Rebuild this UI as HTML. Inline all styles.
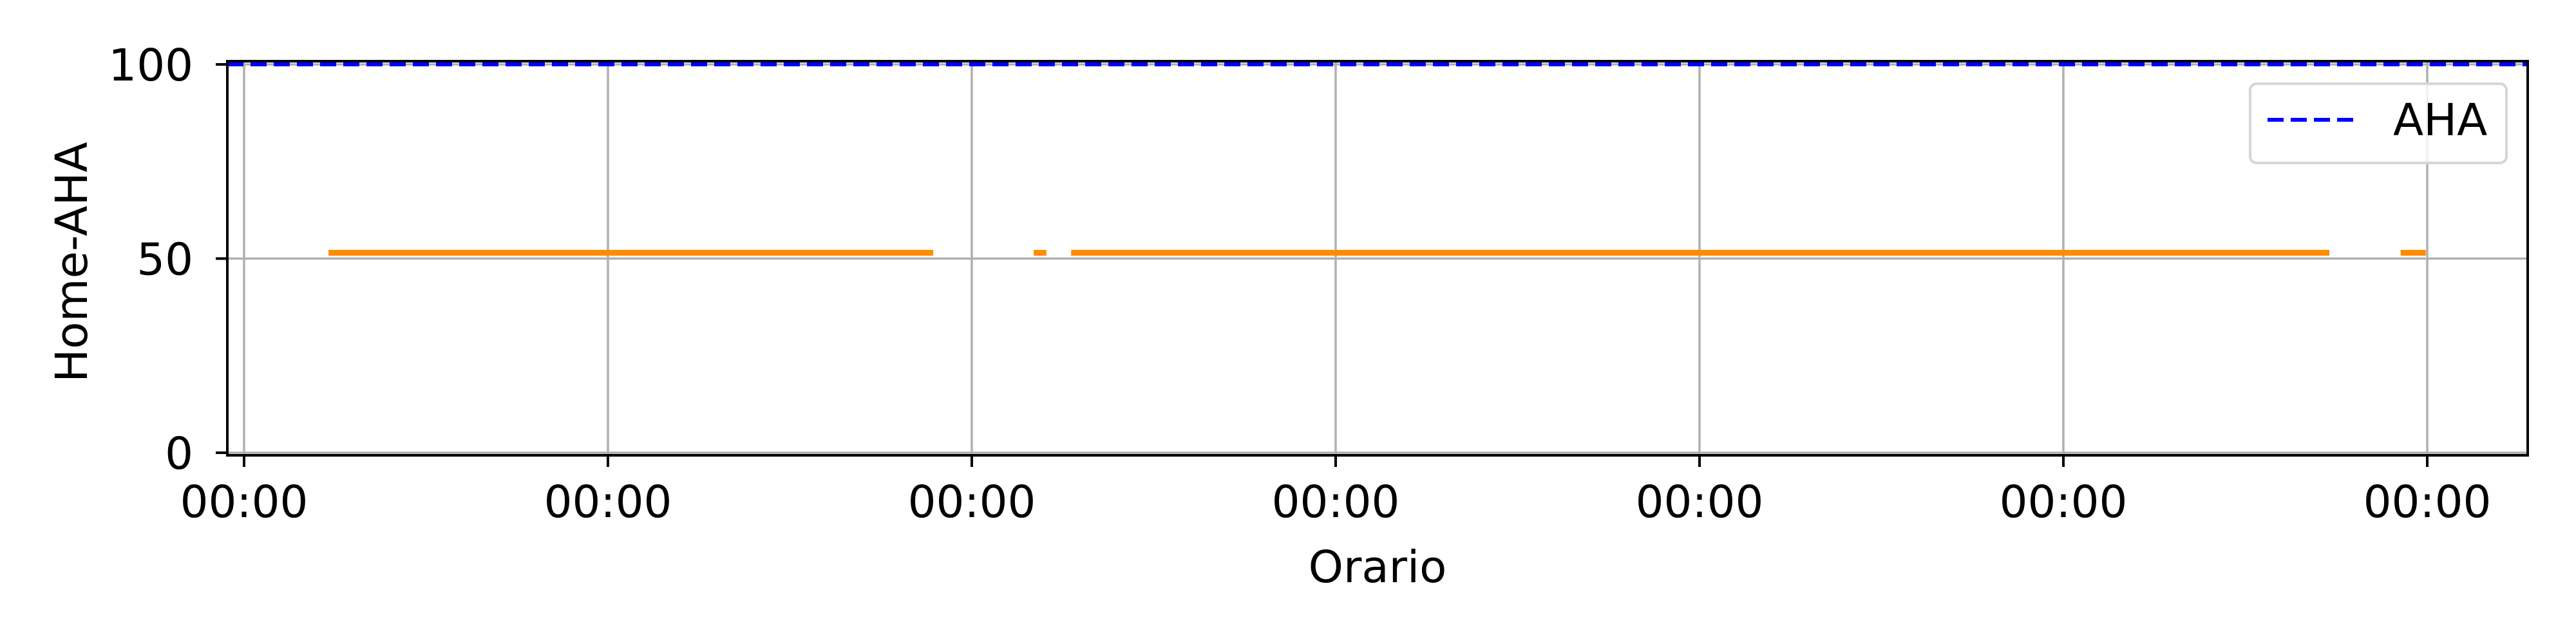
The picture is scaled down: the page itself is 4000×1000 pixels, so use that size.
<!DOCTYPE html>
<html><head><meta charset="utf-8"><style>
html,body{margin:0;padding:0;background:#fff;}
svg{display:block;font-family:"DejaVu Sans","Liberation Sans",sans-serif;}
</style></head><body>
<svg id="chart" width="4000" height="1000" viewBox="0 0 4000 1000">
<rect width="4000" height="1000" fill="#fff"/>
<g id="grid"></g><g id="series"></g><g id="axes"></g>
</svg>
<script>
const xTickLabels = ["00:00","00:00","00:00","00:00","00:00","00:00","00:00"];
const xTickValues = [0,1,2,3,4,5,6];
const yTickValues = [0,50,100];
const segStarts = [0.232, 2.170, 2.273, 5.927];
const segEnds = [1.894, 2.205, 5.731, 5.996];
const segValues = [51.5, 51.5, 51.5, 51.5];
const ahaValue = 100;

const L=353,R=3925,T=95,B=707;
const X=v=>379+(v)*565;
const Y=v=>703-v*(703-100)/100;
const NS="http://www.w3.org/2000/svg";
const FS=69;
function mk(tag,attrs,parent){const e=document.createElementNS(NS,tag);for(const k in attrs)e.setAttribute(k,attrs[k]);parent.appendChild(e);return e;}
const grid=document.getElementById('grid'),series=document.getElementById('series'),axes=document.getElementById('axes');
xTickValues.forEach((v,i)=>{
  const g=mk('line',{x1:X(v),x2:X(v),y1:T,y2:B,stroke:'#b0b0b0','stroke-width':3.5},grid);
  
  
  const t=mk('line',{x1:X(v),x2:X(v),y1:B,y2:B+18,stroke:'#000','stroke-width':4},axes);
  
  
  const lb=mk('text',{x:X(v),y:803,'font-size':FS,'text-anchor':'middle',fill:'#000'},axes);
  lb.textContent=xTickLabels[i];
  
  
});
yTickValues.forEach(v=>{
  const g=mk('line',{x1:L,x2:R,y1:Y(v),y2:Y(v),stroke:'#b0b0b0','stroke-width':3.5},grid);
  
  
  const t=mk('line',{x1:L-18,x2:L,y1:Y(v),y2:Y(v),stroke:'#000','stroke-width':4},axes);
  
  
  const lb=mk('text',{x:300,y:Y(v)+25,'font-size':FS,'text-anchor':'end',fill:'#000'},axes);
  lb.textContent=String(v);
  
  
});
segStarts.forEach((s,i)=>{
  const l=mk('line',{x1:X(s),x2:X(segEnds[i]),y1:Y(segValues[i]),y2:Y(segValues[i]),stroke:'#ff8c00','stroke-width':9},series);
  
  
});
const aha=mk('line',{x1:L,x2:R,y1:Y(ahaValue),y2:Y(ahaValue),stroke:'#0000ff','stroke-width':6,'stroke-dasharray':'25 11'},series);


const frame=mk('rect',{x:L,y:T,width:R-L,height:B-T,fill:'none',stroke:'#000','stroke-width':4},axes);


const yl=mk('text',{x:0,y:0,'font-size':FS,'text-anchor':'middle',fill:'#000',transform:'translate(135,407) rotate(-90)'},axes);
yl.textContent='Home-AHA';


const xl=mk('text',{x:2139,y:904,'font-size':FS,'text-anchor':'middle',fill:'#000'},axes);
xl.textContent='Orario';


const leg=mk('g',{},axes);


mk('rect',{x:3494,y:130,width:398,height:123,rx:10,fill:'rgba(255,255,255,0.8)',stroke:'#d6d6d6','stroke-width':4},leg);
const ll=mk('line',{x1:3521,x2:3658,y1:186,y2:186,stroke:'#0000ff','stroke-width':6,'stroke-dasharray':'25 11'},leg);


const lt=mk('text',{x:3716,y:210,'font-size':FS,fill:'#000'},leg);
lt.textContent='AHA';


</script>
</body></html>
